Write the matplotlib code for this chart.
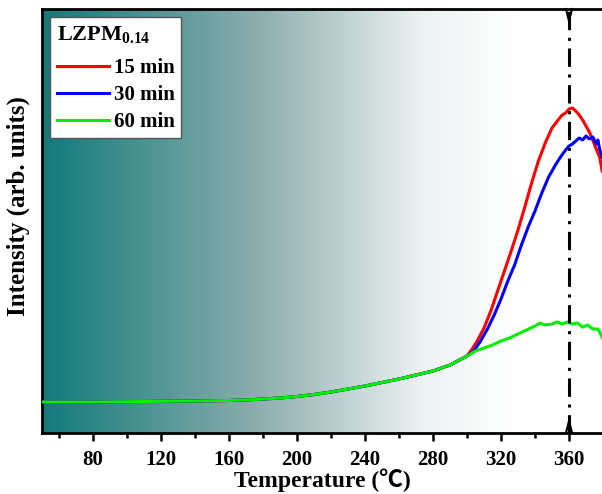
import numpy as np
import matplotlib
matplotlib.use("Agg")
import matplotlib.pyplot as plt
from matplotlib.colors import LinearSegmentedColormap
from matplotlib.ticker import MultipleLocator

plt.rcParams['font.family'] = ['Liberation Serif', 'DejaVu Serif']
plt.rcParams['font.weight'] = 'bold'
plt.rcParams['mathtext.fontset'] = 'custom'
plt.rcParams['mathtext.rm'] = 'Liberation Serif:bold'
plt.rcParams['mathtext.bf'] = 'Liberation Serif:bold'
plt.rcParams['mathtext.it'] = 'Liberation Serif:bold'

# ---- data ----
base_T = [50, 80, 110, 140, 160, 175, 190, 200, 210, 220, 230, 240, 250, 260, 270, 280, 290, 300]
base_I = [31, 31, 31.5, 32, 32.5, 33.5, 35, 36.5, 38.5, 41, 44, 47, 50.5, 54, 58, 62, 68, 77]

red_T = [303, 306, 310, 314, 318, 322, 326, 330, 334, 338, 342, 346, 350, 354, 356, 358, 360,
         362, 364, 366, 368, 370, 372, 374, 376, 378, 379.5]
red_I = [84, 92, 105, 122, 142, 162, 182, 203, 226, 250, 272, 290, 305, 314, 318, 320, 324,
         325, 322, 318, 313, 307, 301, 293, 284, 276, 262]

blue_T = [304, 308, 312, 316, 320, 324, 328, 332, 336, 340, 344, 348, 352, 355, 358, 360, 362,
          364, 366, 368, 370, 372, 374, 376, 377, 378, 379.5]
blue_I = [82, 92, 104, 118, 134, 152, 168, 188, 206, 222, 240, 256, 268, 276, 283, 287, 289,
          292, 295, 293, 297, 294, 296, 289, 293, 284, 276]

green_T = [305, 310, 315, 320, 325, 330, 335, 340, 343, 346, 350, 353, 356, 359, 362, 365, 368,
           371, 374, 377, 379.5]
green_I = [82, 85, 88, 92, 95, 99, 103, 107, 110, 108, 109, 111, 109, 111, 109, 110, 106,
           108, 104, 104, 96]

labels = ['15 min', '30 min', '60 min']
colors = ['#ff0000', '#0000ff', '#00ee00']
peak_temp = 360
x_ticks = [80, 120, 160, 200, 240, 280, 320, 360]
xlim = (50, 380)
ylim = (0, 424)

series = [
    (base_T + red_T, base_I + red_I),
    (base_T + blue_T, base_I + blue_I),
    (base_T + green_T, base_I + green_I),
]

fig = plt.figure(figsize=(6.02, 4.94), dpi=100)
ax = fig.add_axes([42 / 602, 61 / 494, 561 / 602, 424 / 494])

# background gradient
cmap = LinearSegmentedColormap.from_list(
    'bg', [(0.0, (0.07, 0.48, 0.48)), (0.45, (0.55, 0.68, 0.68)),
           (0.8, (0.93, 0.95, 0.95)), (1.0, (1.0, 1.0, 1.0))])
grad = np.linspace(0, 1, 512)
grad = np.clip(grad / 0.85, 0, 1)[None, :]
ax.imshow(grad, cmap=cmap, extent=[xlim[0], xlim[1], ylim[0], ylim[1]],
          aspect='auto', zorder=0, interpolation='bilinear')

for (t, i), lab, c in zip(series, labels, colors):
    ax.plot(t, i, color=c, lw=2.2, label=lab, zorder=3)

# vertical dash-dot reference line with end marks
ax.axvline(peak_temp, color='black', lw=2.2, ls=(0, (6, 2.5, 1, 2.5)), zorder=4)
dx = 1.8
ax.plot([peak_temp - dx, peak_temp, peak_temp + dx], [ylim[1], ylim[1] - 12, ylim[1]],
        color='black', lw=1.5, zorder=4, clip_on=False)
ax.plot([peak_temp - dx, peak_temp, peak_temp + dx], [ylim[0], ylim[0] + 12, ylim[0]],
        color='black', lw=1.5, zorder=4, clip_on=False)

ax.set_xlim(*xlim)
ax.set_ylim(*ylim)
ax.set_xticks(x_ticks)
ax.xaxis.set_minor_locator(MultipleLocator(20))
ax.tick_params(axis='x', which='major', direction='out', length=6, width=1.8,
               labelsize=15, pad=6)
ax.tick_params(axis='x', which='minor', direction='out', length=3.5, width=1.8)
ax.set_yticks([])
for lab in ax.get_xticklabels():
    lab.set_fontweight('bold')
for s in ax.spines.values():
    s.set_linewidth(2)

ax.set_xlabel('Temperature (℃)', fontsize=17, fontweight='bold', labelpad=-1,
              family=['Liberation Serif', 'Noto Sans CJK SC'])
ax.set_ylabel('Intensity (arb. units)', fontsize=18, fontweight='bold')
ax.yaxis.set_label_coords(-0.021, 0.535)

leg = ax.legend(loc='upper left', title=r'$\mathbf{LZPM_{0.14}}$', fontsize=15,
                title_fontsize=16, frameon=True, fancybox=False, framealpha=1,
                edgecolor='#555555', handlelength=2.5, handletextpad=0.25,
                borderaxespad=0.4, labelspacing=0.32, borderpad=0.3)
leg.get_frame().set_linewidth(1)
leg._legend_box.align = 'left'
leg._legend_box.sep = 10
for t in leg.get_texts():
    t.set_fontweight('bold')

fig.savefig('out.png', dpi=100)
